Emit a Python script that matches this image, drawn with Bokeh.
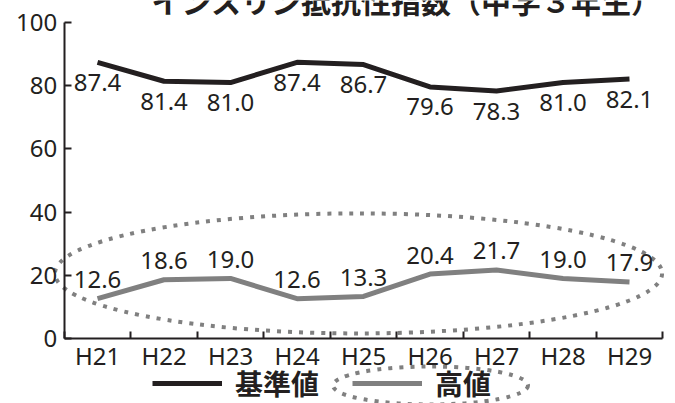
from bokeh.plotting import figure
from bokeh.models import LinearAxis, FixedTicker, Range1d, Legend, LegendItem, ColumnDataSource
from bokeh.core.properties import value
from bokeh.embed import file_html
from bokeh.resources import INLINE

# ---- data ----
categories = ["H21", "H22", "H23", "H24", "H25", "H26", "H27", "H28", "H29"]
standard_values = [87.4, 81.4, 81.0, 87.4, 86.7, 79.6, 78.3, 81.0, 82.1]
high_values = [12.6, 18.6, 19.0, 12.6, 13.3, 20.4, 21.7, 19.0, 17.9]
y_ticks = [0, 20, 40, 60, 80, 100]
series_names = ["基準値", "高値"]
title_text = "インスリン抵抗性指数（中学３年生）"

NUM_FONT = "Noto Sans"
JP_FONT = "Noto Sans CJK JP"
BLACK = "#231f20"
GRAY = "#808080"

xs = list(range(len(categories)))
src_std = ColumnDataSource(dict(x=xs, y=standard_values, t=[f"{v:.1f}" for v in standard_values]))
src_high = ColumnDataSource(dict(x=xs, y=high_values, t=[f"{v:.1f}" for v in high_values]))

W, H = 675, 403
px_x = 66.5      # pixels per category
px_y = 3.16      # pixels per y unit
x0_px = 97       # canvas x of first category center
y0_px = 338      # canvas y of value 0

p = figure(width=W, height=H, output_backend="svg", toolbar_location=None,
           x_range=Range1d(-x0_px / px_x, (W - x0_px) / px_x),
           y_range=Range1d(-(H - y0_px) / px_y, y0_px / px_y),
           x_axis_location=None, y_axis_location=None, min_border=0,
           background_fill_color="white", border_fill_color="white")
p.outline_line_color = None
p.grid.visible = False

def style_axis(ax):
    ax.axis_line_width = 2
    ax.axis_line_color = BLACK
    ax.major_tick_line_width = 2
    ax.major_tick_line_color = BLACK
    ax.minor_tick_line_color = None
    ax.major_tick_in = 7
    ax.major_tick_out = 0
    ax.major_label_text_font = NUM_FONT
    ax.major_label_text_font_size = "24px"
    ax.major_label_text_color = BLACK

# y axis
yaxis = LinearAxis(fixed_location=-0.5, bounds=(0, 100), ticker=FixedTicker(ticks=y_ticks, minor_ticks=[]))
style_axis(yaxis)
yaxis.major_label_standoff = 7
p.add_layout(yaxis, "left")

# x axis: tick marks at category boundaries
n = len(categories)
xaxis_ticks = LinearAxis(fixed_location=0, bounds=(-0.5, n - 0.5),
                         ticker=FixedTicker(ticks=[i - 0.5 for i in range(n + 1)], minor_ticks=[]))
style_axis(xaxis_ticks)
xaxis_ticks.major_label_text_color = None
p.add_layout(xaxis_ticks, "below")

# x axis: category labels at centers
xaxis_labels = LinearAxis(fixed_location=0, bounds=(-0.5, n - 0.5),
                          ticker=FixedTicker(ticks=xs, minor_ticks=[]))
style_axis(xaxis_labels)
xaxis_labels.axis_line_color = None
xaxis_labels.major_tick_line_color = None
xaxis_labels.major_tick_in = 0
xaxis_labels.major_label_overrides = {i: c for i, c in enumerate(categories)}
xaxis_labels.major_label_standoff = 0
p.add_layout(xaxis_labels, "below")

# highlight ellipse around the high-value series
p.ellipse(x=3.925, y=20.6, width=9.13, height=38.0, fill_color=None,
          line_color=GRAY, line_width=4, line_dash="4 7")

# lines
r_std = p.line("x", "y", source=src_std, line_color=BLACK, line_width=5)
r_high = p.line("x", "y", source=src_high, line_color=GRAY, line_width=5)

# data labels
p.text("x", "y", text="t", source=src_std, text_font=value(NUM_FONT), text_font_size="24px",
       text_color=BLACK, text_align="center", text_baseline="middle", y_offset=20)
p.text("x", "y", text="t", source=src_high, text_font=value(NUM_FONT), text_font_size="24px",
       text_color=BLACK, text_align="center", text_baseline="middle", y_offset=-19)

# title (clipped at top as in the reference)
p.text(x=[(406 - x0_px) / px_x], y=[(y0_px + 1) / px_y], text=[title_text], text_font=value(JP_FONT),
       text_font_size="30px", text_font_style="bold", text_color=BLACK,
       text_align="center", text_baseline="alphabetic")

# legend
legend = Legend(items=[LegendItem(label=series_names[0], renderers=[r_std]),
                       LegendItem(label=series_names[1], renderers=[r_high])],
                orientation="horizontal", location=(152, 0), glyph_width=70, glyph_height=30,
                label_standoff=13, spacing=33, padding=0, margin=0,
                border_line_color=None, background_fill_alpha=0)
legend.label_text_font = JP_FONT
legend.label_text_font_size = "28px"
legend.label_text_font_style = "bold"
legend.label_text_color = BLACK
p.add_layout(legend)

# dotted ellipse around the legend entry for the high series
p.ellipse(x=(430 - x0_px) / px_x, y=(y0_px - 385) / px_y, width=195 / px_x, height=38 / px_y,
          fill_color=None, line_color=GRAY, line_width=4, line_dash="4 7")

open("out.html", "w").write(file_html(p, INLINE))
